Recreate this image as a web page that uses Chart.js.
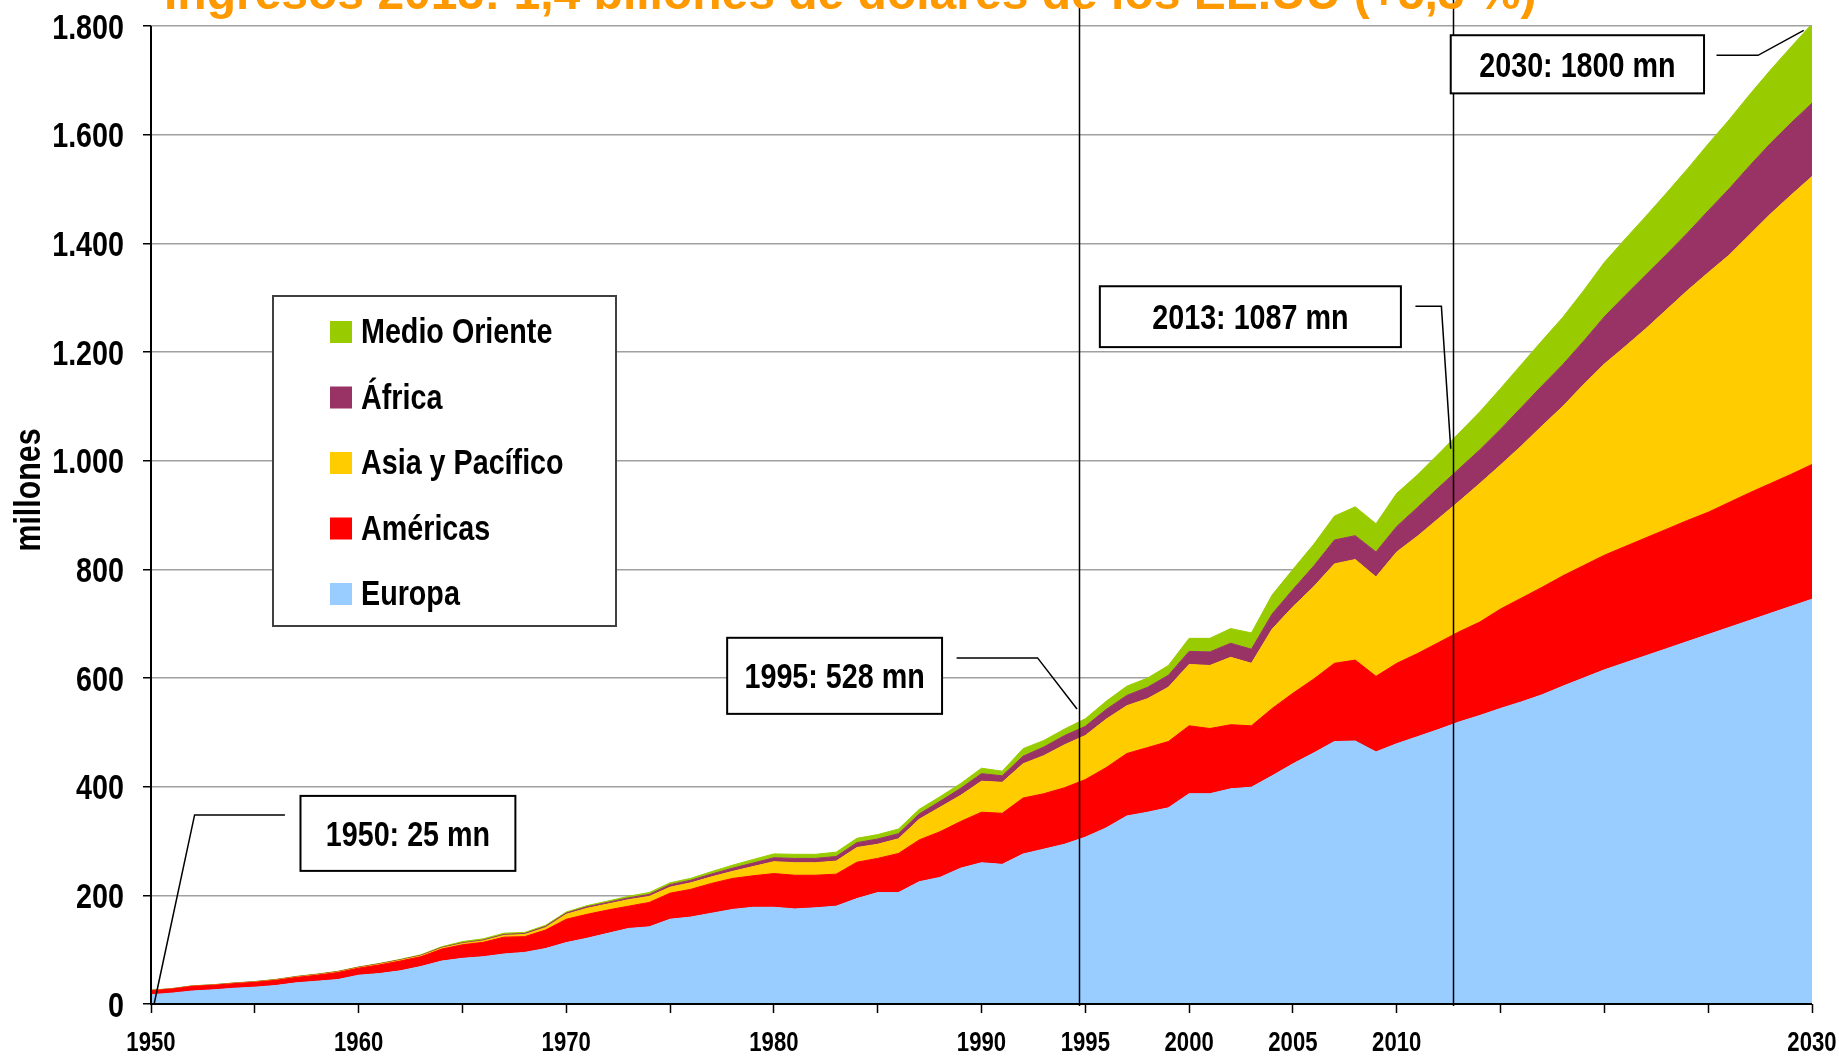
<!DOCTYPE html>
<html lang="es">
<head>
<meta charset="utf-8">
<title>Llegadas de turistas internacionales 1950-2030</title>
<script src="https://cdn.jsdelivr.net/npm/chart.js@4.4.1/dist/chart.umd.min.js"></script>
<style>
  html, body { margin: 0; padding: 0; background: #fff; }
  #wrap { width: 1839px; height: 1056px; overflow: hidden; }
</style>
</head>
<body>
<div id="wrap"><canvas id="chart" width="1839" height="1056"></canvas></div>
<script>
// años (eje x)
const years = [
  1950, 1951, 1952, 1953, 1954, 1955, 1956, 1957, 1958, 1959,
  1960, 1961, 1962, 1963, 1964, 1965, 1966, 1967, 1968, 1969,
  1970, 1971, 1972, 1973, 1974, 1975, 1976, 1977, 1978, 1979,
  1980, 1981, 1982, 1983, 1984, 1985, 1986, 1987, 1988, 1989,
  1990, 1991, 1992, 1993, 1994, 1995, 1996, 1997, 1998, 1999,
  2000, 2001, 2002, 2003, 2004, 2005, 2006, 2007, 2008, 2009,
  2010, 2011, 2012, 2013, 2014, 2015, 2016, 2017, 2018, 2019,
  2020, 2021, 2022, 2023, 2024, 2025, 2026, 2027, 2028, 2029, 2030
];

// llegadas por región (millones)
const europa = [
  17, 20, 24, 26, 29, 31, 34, 39, 42, 45,
  53, 56, 61, 69, 79, 84, 87, 92, 95, 102,
  113, 121, 130, 139, 142, 156, 160, 167, 174, 178,
  178, 175, 177, 180, 194, 205, 205, 225, 233, 250,
  260, 257, 276, 285, 294, 307, 324, 346, 353, 361,
  387, 387, 396, 399, 420, 442, 462, 483, 484, 464,
  479, 492, 505, 519, 531, 544, 556, 569, 585, 600,
  615, 628, 641, 654, 667, 680, 693, 706, 719, 732, 745
];
const americas = [
  7.5, 7.5, 8.5, 8.5, 8.5, 9, 9.5, 10, 11, 13,
  13, 16, 18, 18, 22, 25, 26.5, 31, 29, 34,
  43, 44, 43, 41, 45, 48, 51, 55, 57, 58,
  62, 62, 60, 59, 67, 63, 72, 77, 84, 86,
  93, 94, 103, 102, 104, 106, 111, 115, 119, 122,
  125, 120, 118, 113, 124, 130, 136, 144, 149, 139,
  148, 153, 160, 166, 172, 183, 191, 198, 203, 207,
  211, 214, 217, 220, 223, 225, 230, 235, 239, 243, 248
];
const asiaPacifico = [
  0.2, 0.2, 0.3, 0.3, 0.4, 0.5, 0.6, 0.7, 0.8, 0.9,
  0.9, 1.1, 1.3, 1.5, 1.8, 2.1, 2.6, 3.2, 3.8, 4.5,
  9, 11, 11, 12, 11, 11, 12, 12, 13, 17,
  22, 23, 23, 24, 27, 26, 27, 38, 45, 48,
  57, 57, 63, 70, 79, 81, 89, 88, 90, 100,
  113, 116, 124, 115, 146, 159, 170, 183, 185, 183,
  205, 216, 228, 240, 255, 265, 280, 297, 312, 333,
  352, 368, 385, 404, 423, 441, 455, 475, 496, 514, 530
];
const africa = [
  0.5, 0.5, 0.5, 0.5, 0.6, 0.6, 0.7, 0.7, 0.8, 0.8,
  0.8, 0.9, 1.0, 1.1, 1.2, 1.4, 1.6, 1.8, 2.0, 2.2,
  2.4, 2.8, 3.0, 3.3, 3.7, 4.7, 4.8, 5.2, 5.9, 6.5,
  7.2, 8, 8, 8.5, 9, 9.7, 9.5, 9.8, 11, 13,
  14, 12, 14, 16, 17, 17, 18, 19, 21, 22,
  24, 25, 26, 26, 28, 32, 38, 44, 44, 46,
  47, 53, 57, 60, 62, 66, 71, 74, 77, 80,
  87, 94, 99, 102, 106, 114, 122, 127, 130, 133, 135
];
const medioOriente = [
  0.2, 0.2, 0.2, 0.3, 0.3, 0.3, 0.4, 0.4, 0.5, 0.5,
  0.6, 0.7, 0.8, 1.0, 1.5, 2.4, 2.3, 2.4, 2.0, 2.1,
  1.9, 2.3, 2.5, 3, 3.5, 3.5, 3.5, 4.5, 5.5, 6.5,
  7.1, 7.5, 7.5, 8, 8, 8.1, 8.5, 8.5, 8.5, 9,
  10, 8.5, 14, 12, 12, 14, 15, 17, 17, 18,
  24, 25, 27, 30, 35, 37, 40, 44, 53, 52,
  61, 60, 62, 66, 70, 75, 79, 83, 87, 93,
  100, 104, 108, 113, 118, 123, 127, 131, 135, 140, 146
];

const seriesNames = ['Europa', 'Américas', 'Asia y Pacífico', 'África', 'Medio Oriente'];
const seriesColors = ['#99CCFF', '#FF0000', '#FFCC00', '#993366', '#99CC00'];
const xLabelYears = [1950, 1960, 1970, 1980, 1990, 1995, 2000, 2005, 2010, 2030];
const markerYears = [1994.7, 2012.7];

const titleText = 'Ingresos 2013: 1,4 billones de dólares de los EE.UU (+5,3 %)';
const yTitle = 'millones';

// recuadros de texto: caja y línea guía en unidades de los ejes (año, millones)
const callouts = [
  { text: '1950: 25 mn',   box: [1957.2, 383, 1967.55, 245],  leader: [[1956.45, 348], [1952.1, 348], [1950.15, 0]] },
  { text: '1995: 528 mn',  box: [1977.75, 674, 1988.1, 534],  leader: [[1988.8, 637], [1992.7, 637], [1994.6, 543]] },
  { text: '2013: 1087 mn', box: [1995.7, 1321, 2010.2, 1209], leader: [[2010.9, 1284], [2012.15, 1284], [2012.6, 1022]] },
  { text: '2030: 1800 mn', box: [2012.6, 1783, 2024.8, 1676], leader: [[2025.4, 1746], [2027.4, 1746], [2029.6, 1792]] }
];

// no hay Arial Narrow: Liberation Sans Bold comprimida en horizontal
const BASE_FONT = "'Liberation Sans', Arial, sans-serif";
const NARROW_SCALE = 0.82;
const legendBox = { left: 273, top: 296, width: 343, height: 330, swatchX: 330, swatch: 22, textX: 361, firstRow: 332, rowStep: 65.5 };

function fmtMiles(v) {
  if (v >= 1000) return Math.floor(v / 1000) + '.' + String(v % 1000).padStart(3, '0');
  return String(v);
}

function narrowText(ctx, text, x, y, size, align, rotate) {
  ctx.save();
  ctx.translate(x, y);
  if (rotate) ctx.rotate(rotate);
  ctx.scale(NARROW_SCALE, 1);
  ctx.font = 'bold ' + size + 'px ' + BASE_FONT;
  ctx.textAlign = align;
  ctx.textBaseline = 'alphabetic';
  ctx.fillText(text, 0, 0);
  ctx.restore();
}

const seriesValues = [europa, americas, asiaPacifico, africa, medioOriente];
const datasets = seriesValues.map((vals, i) => ({
  label: seriesNames[i],
  data: years.map((yr, k) => ({ x: yr, y: vals[k] })),
  backgroundColor: seriesColors[i],
  borderColor: seriesColors[i],
  borderWidth: 1,
  pointRadius: 0,
  pointHoverRadius: 0,
  tension: 0,
  fill: i === 0 ? 'origin' : '-1'
}));

const overlay = {
  id: 'overlay',
  afterDatasetsDraw(chart) {
    const { ctx, chartArea: area, scales: { x, y } } = chart;
    ctx.save();

    // ejes
    ctx.strokeStyle = '#000';
    ctx.lineWidth = 2;
    ctx.beginPath();
    ctx.moveTo(area.left, area.top);
    ctx.lineTo(area.left, area.bottom);
    ctx.lineTo(area.right, area.bottom);
    ctx.stroke();

    // etiquetas de los ejes
    ctx.fillStyle = '#000';
    y.ticks.forEach(t => {
      narrowText(ctx, fmtMiles(t.value), area.left - 27, y.getPixelForValue(t.value) + 12.5, 35, 'right');
    });
    xLabelYears.forEach(yr => {
      narrowText(ctx, String(yr), x.getPixelForValue(yr), area.bottom + 47, 27, 'center');
    });
    narrowText(ctx, yTitle, 40, 490, 37, 'center', -Math.PI / 2);

    // líneas verticales 1995 / 2013
    ctx.lineWidth = 1.5;
    markerYears.forEach(yr => {
      const px = Math.round(x.getPixelForValue(yr)) + 0.5;
      ctx.beginPath();
      ctx.moveTo(px, 0);
      ctx.lineTo(px, area.bottom + 2);
      ctx.stroke();
    });

    // recuadros
    callouts.forEach(c => {
      const x1 = x.getPixelForValue(c.box[0]), y1 = y.getPixelForValue(c.box[1]);
      const x2 = x.getPixelForValue(c.box[2]), y2 = y.getPixelForValue(c.box[3]);
      ctx.fillStyle = '#fff';
      ctx.fillRect(x1, y1, x2 - x1, y2 - y1);
      ctx.strokeStyle = '#000';
      ctx.lineWidth = 2;
      ctx.strokeRect(x1, y1, x2 - x1, y2 - y1);
      ctx.fillStyle = '#000';
      narrowText(ctx, c.text, (x1 + x2) / 2, (y1 + y2) / 2 + 12.5, 35, 'center');
      ctx.lineWidth = 1.5;
      ctx.beginPath();
      c.leader.forEach(([lx, ly], k) => {
        const px = x.getPixelForValue(lx), py = y.getPixelForValue(ly);
        if (k) ctx.lineTo(px, py); else ctx.moveTo(px, py);
      });
      ctx.stroke();
    });

    // leyenda
    const L = legendBox;
    ctx.fillStyle = '#fff';
    ctx.fillRect(L.left, L.top, L.width, L.height);
    ctx.strokeStyle = '#404040';
    ctx.lineWidth = 2;
    ctx.strokeRect(L.left, L.top, L.width, L.height);
    chart.data.datasets.slice().reverse().forEach((ds, k) => {
      const cy = L.firstRow + k * L.rowStep;
      ctx.fillStyle = ds.backgroundColor;
      ctx.fillRect(L.swatchX, cy - L.swatch / 2, L.swatch, L.swatch);
      ctx.fillStyle = '#000';
      narrowText(ctx, ds.label, L.textX, cy + L.swatch / 2, 35, 'left');
    });

    // título (cortado arriba)
    ctx.fillStyle = '#FF9900';
    ctx.font = 'bold 48px ' + BASE_FONT;
    ctx.textAlign = 'left';
    ctx.textBaseline = 'alphabetic';
    ctx.fillText(titleText, 164, 9);

    ctx.restore();
  }
};

new Chart(document.getElementById('chart'), {
  type: 'line',
  data: { datasets },
  options: {
    responsive: false,
    animation: false,
    devicePixelRatio: 1,
    events: [],
    layout: { padding: { top: 26, right: 27, left: 0, bottom: 0 } },
    plugins: {
      legend: { display: false },
      tooltip: { enabled: false },
      title: { display: false }
    },
    scales: {
      x: {
        type: 'linear',
        min: 1950,
        max: 2030,
        grid: { drawOnChartArea: false, drawTicks: true, tickLength: 9, tickColor: '#000', tickWidth: 1.5 },
        border: { display: false },
        ticks: { stepSize: 5, autoSkip: false, display: false },
        afterFit: s => { s.height = 52; }
      },
      y: {
        stacked: true,
        min: 0,
        max: 1800,
        grid: { color: '#A0A0A0', lineWidth: 1.5, tickLength: 8, tickColor: '#000', tickWidth: 1.5 },
        border: { display: false },
        ticks: { stepSize: 200, display: false },
        afterFit: s => { s.width = 151; }
      }
    }
  },
  plugins: [overlay]
});
</script>
</body>
</html>
